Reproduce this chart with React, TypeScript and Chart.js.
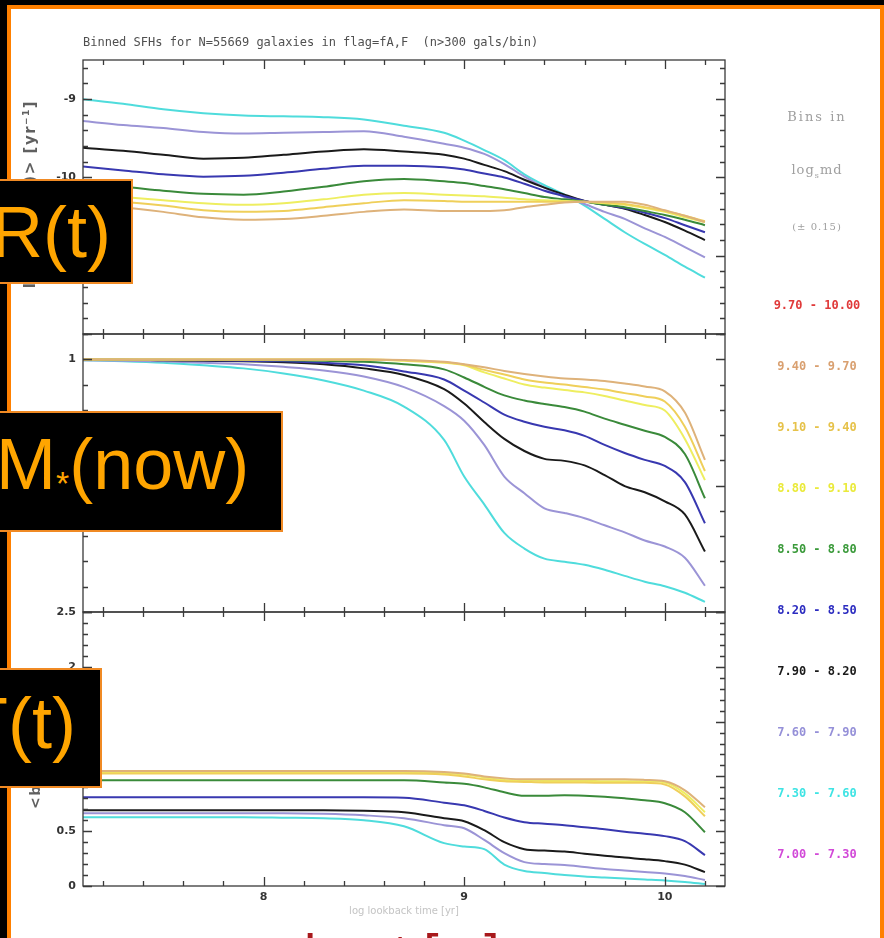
import React, { useEffect, useRef } from 'react';
import { Chart, registerables } from 'chart.js';

Chart.register(...registerables);

// ---------- data ----------
const LOG_T = [7.1, 7.3, 7.5, 7.7, 7.9, 8.1, 8.3, 8.5, 8.7, 8.9, 9.0, 9.1, 9.2, 9.3, 9.4, 9.5, 9.6, 9.7, 9.8, 9.9, 10.0, 10.1, 10.2];

const X_TICK_LABELS = [8, 9, 10];
const TOP_Y_LABELS = [-11, -10, -9];
const MID_Y_LABELS = [0.5, 1];
const BOT_Y_LABELS = [0, 0.5, 1, 1.5, 2, 2.5];

const BIN_LABELS = ['9.70 - 10.00', '9.40 - 9.70', '9.10 - 9.40', '8.80 - 9.10', '8.50 - 8.80', '8.20 - 8.50', '7.90 - 8.20', '7.60 - 7.90', '7.30 - 7.60', '7.00 - 7.30'];
const BIN_COLORS = ['#e03a3a', '#d9a070', '#e6c24a', '#eaea3a', '#3a9a3a', '#2c2cc0', '#1a1a1a', '#9590d8', '#3fe4e4', '#d24ad8'];

// plotted bins (9.40-9.70 ... 7.30-7.60)
const LINE_COLORS = ['#deb27a', '#efcf5a', '#eeee60', '#3a8a3a', '#3838b0', '#1a1a1a', '#9b94d6', '#4fdcdc'];

// top panel: log <SFR(t)>
const SFR_940 = [-10.33, -10.38, -10.44, -10.51, -10.54, -10.53, -10.49, -10.44, -10.41, -10.43, -10.43, -10.43, -10.42, -10.38, -10.35, -10.32, -10.31, -10.31, -10.31, -10.35, -10.42, -10.49, -10.57];
const SFR_910 = [-10.28, -10.31, -10.36, -10.42, -10.44, -10.43, -10.38, -10.33, -10.29, -10.30, -10.31, -10.31, -10.31, -10.31, -10.31, -10.31, -10.31, -10.32, -10.34, -10.38, -10.43, -10.49, -10.56];
const SFR_880 = [-10.21, -10.25, -10.29, -10.33, -10.35, -10.33, -10.28, -10.22, -10.20, -10.22, -10.23, -10.24, -10.26, -10.28, -10.29, -10.30, -10.31, -10.33, -10.35, -10.39, -10.44, -10.51, -10.57];
const SFR_850 = [-10.08, -10.12, -10.17, -10.21, -10.22, -10.18, -10.12, -10.05, -10.02, -10.05, -10.07, -10.11, -10.15, -10.20, -10.25, -10.28, -10.31, -10.35, -10.38, -10.43, -10.48, -10.54, -10.61];
const SFR_820 = [-9.86, -9.91, -9.96, -9.99, -9.98, -9.94, -9.89, -9.85, -9.85, -9.87, -9.90, -9.95, -10.00, -10.08, -10.17, -10.24, -10.30, -10.35, -10.39, -10.45, -10.52, -10.61, -10.70];
const SFR_790 = [-9.62, -9.66, -9.71, -9.76, -9.75, -9.71, -9.67, -9.64, -9.67, -9.71, -9.76, -9.84, -9.92, -10.03, -10.13, -10.22, -10.30, -10.35, -10.40, -10.48, -10.57, -10.68, -10.80];
const SFR_760 = [-9.28, -9.33, -9.37, -9.42, -9.44, -9.43, -9.42, -9.41, -9.48, -9.57, -9.62, -9.70, -9.83, -9.99, -10.13, -10.25, -10.34, -10.44, -10.53, -10.65, -10.76, -10.89, -11.02];
const SFR_730 = [-9.00, -9.06, -9.13, -9.18, -9.21, -9.22, -9.23, -9.26, -9.34, -9.43, -9.53, -9.65, -9.78, -9.96, -10.10, -10.22, -10.36, -10.53, -10.70, -10.85, -10.99, -11.14, -11.28];

// middle panel: M*(<t)/M*(now)
const MFRAC_940 = [0.999, 0.999, 0.999, 0.999, 0.999, 0.999, 0.999, 0.999, 0.997, 0.990, 0.980, 0.968, 0.954, 0.942, 0.932, 0.924, 0.920, 0.914, 0.904, 0.892, 0.873, 0.789, 0.602];
const MFRAC_910 = [0.999, 0.999, 0.999, 0.999, 0.999, 0.999, 0.999, 0.999, 0.996, 0.988, 0.978, 0.958, 0.940, 0.920, 0.908, 0.900, 0.890, 0.880, 0.866, 0.853, 0.833, 0.733, 0.558];
const MFRAC_880 = [0.999, 0.999, 0.999, 0.999, 0.999, 0.999, 0.999, 0.999, 0.994, 0.986, 0.976, 0.948, 0.924, 0.900, 0.888, 0.878, 0.869, 0.855, 0.837, 0.819, 0.797, 0.685, 0.522];
const MFRAC_850 = [0.998, 0.998, 0.998, 0.998, 0.997, 0.996, 0.994, 0.990, 0.980, 0.960, 0.928, 0.891, 0.857, 0.837, 0.823, 0.811, 0.793, 0.765, 0.741, 0.717, 0.693, 0.625, 0.450];
const MFRAC_820 = [0.998, 0.998, 0.998, 0.996, 0.994, 0.992, 0.986, 0.976, 0.952, 0.920, 0.876, 0.829, 0.781, 0.753, 0.733, 0.719, 0.697, 0.661, 0.629, 0.602, 0.578, 0.514, 0.351];
const MFRAC_790 = [0.998, 0.998, 0.996, 0.994, 0.992, 0.988, 0.980, 0.964, 0.938, 0.882, 0.825, 0.752, 0.685, 0.637, 0.606, 0.598, 0.580, 0.542, 0.498, 0.474, 0.438, 0.386, 0.239];
const MFRAC_760 = [0.996, 0.994, 0.992, 0.986, 0.980, 0.970, 0.956, 0.932, 0.890, 0.815, 0.757, 0.661, 0.536, 0.470, 0.410, 0.392, 0.371, 0.343, 0.315, 0.283, 0.259, 0.215, 0.104];
const MFRAC_730 = [0.996, 0.992, 0.986, 0.976, 0.964, 0.944, 0.916, 0.876, 0.813, 0.681, 0.536, 0.426, 0.313, 0.251, 0.211, 0.199, 0.187, 0.167, 0.143, 0.120, 0.102, 0.076, 0.040];

// bottom panel
const BOT_940 = [1.050, 1.050, 1.050, 1.050, 1.050, 1.050, 1.050, 1.050, 1.050, 1.041, 1.027, 1.000, 0.982, 0.973, 0.973, 0.973, 0.973, 0.973, 0.973, 0.968, 0.955, 0.873, 0.718];
const BOT_910 = [1.027, 1.027, 1.027, 1.027, 1.027, 1.027, 1.027, 1.027, 1.027, 1.018, 1.000, 0.973, 0.955, 0.950, 0.945, 0.945, 0.945, 0.941, 0.941, 0.941, 0.927, 0.818, 0.636];
const BOT_880 = [1.041, 1.041, 1.041, 1.041, 1.041, 1.041, 1.041, 1.041, 1.041, 1.032, 1.018, 0.991, 0.968, 0.964, 0.959, 0.959, 0.959, 0.955, 0.955, 0.955, 0.945, 0.845, 0.673];
const BOT_850 = [0.964, 0.964, 0.964, 0.964, 0.964, 0.964, 0.964, 0.964, 0.964, 0.945, 0.932, 0.900, 0.855, 0.823, 0.823, 0.827, 0.823, 0.814, 0.800, 0.782, 0.755, 0.673, 0.491];
const BOT_820 = [0.809, 0.809, 0.809, 0.809, 0.809, 0.809, 0.809, 0.809, 0.805, 0.760, 0.736, 0.685, 0.625, 0.582, 0.568, 0.555, 0.536, 0.518, 0.495, 0.477, 0.455, 0.409, 0.282];
const BOT_790 = [0.691, 0.691, 0.691, 0.691, 0.691, 0.691, 0.691, 0.686, 0.673, 0.618, 0.591, 0.509, 0.400, 0.336, 0.323, 0.314, 0.295, 0.277, 0.259, 0.245, 0.227, 0.195, 0.127];
const BOT_760 = [0.664, 0.664, 0.664, 0.664, 0.664, 0.664, 0.659, 0.645, 0.618, 0.555, 0.527, 0.420, 0.300, 0.218, 0.200, 0.191, 0.173, 0.155, 0.141, 0.127, 0.114, 0.091, 0.055];
const BOT_730 = [0.627, 0.627, 0.627, 0.627, 0.627, 0.623, 0.618, 0.600, 0.545, 0.391, 0.360, 0.336, 0.195, 0.136, 0.118, 0.100, 0.086, 0.077, 0.068, 0.059, 0.050, 0.036, 0.018];

const TOP_SERIES = [SFR_940, SFR_910, SFR_880, SFR_850, SFR_820, SFR_790, SFR_760, SFR_730];
const MID_SERIES = [MFRAC_940, MFRAC_910, MFRAC_880, MFRAC_850, MFRAC_820, MFRAC_790, MFRAC_760, MFRAC_730];
const BOT_SERIES = [BOT_940, BOT_910, BOT_880, BOT_850, BOT_820, BOT_790, BOT_760, BOT_730];

const TITLE = 'Binned SFHs for N=55669 galaxies in flag=fA,F  (n>300 gals/bin)';

// ---------- chart helpers ----------
interface PanelCfg {
  series: number[][];
  yMin: number;
  yMax: number;
  yLabels: number[];
  yStep: number;
  showX: boolean;
  padBottom: number;
}

const FONT_TICK = { family: 'DejaVu Sans', size: 11, weight: 'bold' as const };

function makePanel(canvas: HTMLCanvasElement, cfg: PanelCfg) {
  const framePlugin = {
    id: 'frameTicks',
    afterDatasetsDraw(chart: any) {
      const { ctx, chartArea: a } = chart;
      const xs = chart.scales.x;
      const ys = chart.scales.y;
      ctx.save();
      ctx.strokeStyle = '#3a3a3a';
      ctx.lineWidth = 1.3;
      ctx.strokeRect(a.left, a.top, a.right - a.left, a.bottom - a.top);
      ctx.beginPath();
      // x ticks (every 0.2, major every 1)
      for (let k = 36; k <= 51; k++) {
        const v = k * 0.2;
        const px = Math.round(xs.getPixelForValue(v)) + 0.5;
        const len = k % 5 === 0 ? 9 : 5;
        ctx.moveTo(px, a.bottom); ctx.lineTo(px, a.bottom - len);
        ctx.moveTo(px, a.top); ctx.lineTo(px, a.top + len);
      }
      // y ticks
      const k0 = Math.ceil(cfg.yMin / cfg.yStep - 1e-6);
      const k1 = Math.floor(cfg.yMax / cfg.yStep + 1e-6);
      for (let k = k0; k <= k1; k++) {
        const v = k * cfg.yStep;
        const py = Math.round(ys.getPixelForValue(v)) + 0.5;
        const len = Math.abs(k % 5) === 0 ? 9 : 5;
        ctx.moveTo(a.left, py); ctx.lineTo(a.left + len, py);
        ctx.moveTo(a.right, py); ctx.lineTo(a.right - len, py);
      }
      ctx.stroke();
      ctx.restore();
    },
  };

  return new Chart(canvas, {
    type: 'line',
    data: {
      datasets: cfg.series.map((vals, i) => ({
        data: LOG_T.map((x, j) => ({ x, y: vals[j] })),
        borderColor: LINE_COLORS[i],
        borderWidth: 2,
        pointRadius: 0,
        cubicInterpolationMode: 'monotone' as const,
        fill: false,
      })),
    },
    options: {
      responsive: false,
      animation: false,
      devicePixelRatio: 1,
      layout: { padding: { left: 43, right: 159, top: 20, bottom: cfg.padBottom } },
      plugins: { legend: { display: false }, tooltip: { enabled: false }, title: { display: false } },
      scales: {
        x: {
          type: 'linear',
          min: 7.1,
          max: 10.3,
          display: cfg.showX,
          grid: { display: false, drawTicks: false },
          border: { display: false },
          ticks: { font: FONT_TICK, color: '#333', padding: 5, callback: (v: any) => String(v) },
          afterBuildTicks: (s: any) => { s.ticks = X_TICK_LABELS.map((v) => ({ value: v })); },
          afterFit: (s: any) => { s.height = cfg.showX ? 20 : 0; },
        },
        y: {
          type: 'linear',
          min: cfg.yMin,
          max: cfg.yMax,
          grid: { display: false, drawTicks: false },
          border: { display: false },
          ticks: { font: FONT_TICK, color: '#333', padding: 7, callback: (v: any) => String(v) },
          afterBuildTicks: (s: any) => { s.ticks = cfg.yLabels.map((v) => ({ value: v })); },
          afterFit: (s: any) => { s.width = 40; },
        },
      },
    },
    plugins: [framePlugin],
  } as any);
}

// ---------- component ----------
const abs = (o: React.CSSProperties): React.CSSProperties => ({ position: 'absolute', ...o });

export default function App() {
  const topRef = useRef<HTMLCanvasElement>(null);
  const midRef = useRef<HTMLCanvasElement>(null);
  const botRef = useRef<HTMLCanvasElement>(null);

  useEffect(() => {
    const charts = [
      makePanel(topRef.current!, { series: TOP_SERIES, yMin: -12, yMax: -8.5, yLabels: TOP_Y_LABELS, yStep: 0.2, showX: false, padBottom: 20 }),
      makePanel(midRef.current!, { series: MID_SERIES, yMin: 0, yMax: 1.1, yLabels: MID_Y_LABELS, yStep: 0.1, showX: false, padBottom: 20 }),
      makePanel(botRef.current!, { series: BOT_SERIES, yMin: 0, yMax: 2.5, yLabels: BOT_Y_LABELS, yStep: 0.1, showX: true, padBottom: 20 }),
    ];
    return () => charts.forEach((c) => c.destroy());
  }, []);

  const orangeText: React.CSSProperties = {
    font: '72px "Liberation Sans", Arial, sans-serif',
    lineHeight: '72px',
    color: '#ffa500',
    whiteSpace: 'pre',
  };
  const boxStyle: React.CSSProperties = {
    background: '#000',
    border: '2px solid #f08a24',
    boxSizing: 'border-box',
  };

  return (
    <div style={{ position: 'fixed', left: 0, top: 0, width: 884, height: 938, overflow: 'hidden', background: '#000' }}>
      <div style={abs({ left: 7, top: 5, width: 877, height: 1000, background: '#fff', border: '4px solid #ff8000', boxSizing: 'border-box' })} />

      <canvas ref={topRef} width={884} height={314} style={abs({ left: 0, top: 40 })} />
      <canvas ref={midRef} width={884} height={318} style={abs({ left: 0, top: 314 })} />
      <canvas ref={botRef} width={884} height={334} style={abs({ left: 0, top: 592 })} />

      <div style={abs({ left: 83, top: 35, font: '12px "DejaVu Sans Mono"', lineHeight: '14px', color: '#505050', whiteSpace: 'pre' })}>{TITLE}</div>

      {/* y axis titles */}
      <div style={abs({ left: 30, top: 194, transform: 'translate(-50%,-50%) rotate(-90deg)', whiteSpace: 'nowrap', font: 'bold 15px "DejaVu Sans"', letterSpacing: '1.5px', color: '#606060' })}>
        log &lt;SFR(t)&gt; [yr<sup style={{ fontSize: 9 }}>−1</sup>]
      </div>
      <div style={abs({ left: 35, top: 778, transform: 'translate(-50%,-50%) rotate(-90deg)', whiteSpace: 'nowrap', font: 'bold 14px "DejaVu Sans"', letterSpacing: '1.5px', color: '#606060' })}>
        &lt;b(t)&gt;
      </div>

      {/* x axis title (faint) */}
      <div style={abs({ left: 404, top: 905, transform: 'translateX(-50%)', whiteSpace: 'nowrap', font: '10px "DejaVu Sans"', color: '#c4c4c4' })}>log lookback time [yr]</div>

      {/* legend */}
      <div style={abs({ left: 767, top: 108, width: 100, textAlign: 'center', font: '13px "DejaVu Serif"', letterSpacing: '2px', color: '#a0a0a0', lineHeight: '18px' })}>Bins in</div>
      <div style={abs({ left: 767, top: 161, width: 100, textAlign: 'center', font: '13px "DejaVu Serif"', letterSpacing: '1px', color: '#a0a0a0', lineHeight: '18px' })}>
        log<sub style={{ fontSize: 8 }}>s</sub>md
      </div>
      <div style={abs({ left: 767, top: 219, width: 100, textAlign: 'center', font: '10px "DejaVu Serif"', letterSpacing: '1px', color: '#a0a0a0', lineHeight: '16px' })}>(± 0.15)</div>
      {BIN_LABELS.map((lab, i) => (
        <div key={lab} style={abs({ left: 767, top: 298 + 61 * i, width: 100, textAlign: 'center', font: 'bold 12px "DejaVu Sans Mono"', lineHeight: '14px', color: BIN_COLORS[i], whiteSpace: 'pre' })}>{lab}</div>
      ))}

      {/* overlay boxes */}
      <div style={abs({ left: -10, top: 179, width: 143, height: 105, ...boxStyle })} />
      <div style={abs({ left: -9, top: 196, ...orangeText })}>R(t)</div>

      <div style={abs({ left: -10, top: 411, width: 293, height: 121, ...boxStyle })} />
      <div style={abs({ left: -4, top: 428, ...orangeText })}>
        M<span style={{ fontSize: 34, position: 'relative', top: 6 }}>*</span>(now)
      </div>

      <div style={abs({ left: -10, top: 668, width: 112, height: 120, ...boxStyle })} />
      <div style={abs({ left: -36, top: 687, ...orangeText })}>T(t)</div>

      {/* red axis caption, mostly cut off */}
      <div style={abs({ left: 304, top: 927, font: '55px "Liberation Sans", Arial, sans-serif', lineHeight: '55px', color: '#a8191c', whiteSpace: 'pre' })}>log t [yr]</div>
    </div>
  );
}
